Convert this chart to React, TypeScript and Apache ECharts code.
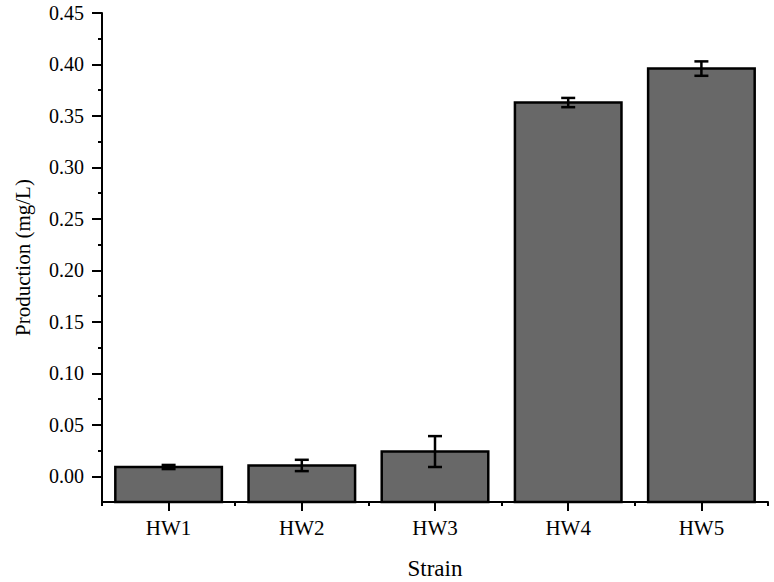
import React, { useEffect, useRef } from "react";
import * as echarts from "echarts";

const categories = ["HW1", "HW2", "HW3", "HW4", "HW5"];
const values = [0.009, 0.0105, 0.024, 0.363, 0.396];
const errors = [0.002, 0.0055, 0.015, 0.0045, 0.007];
const yMin = -0.025;
const yMax = 0.45;
const majorTicks = [0, 0.05, 0.1, 0.15, 0.2, 0.25, 0.3, 0.35, 0.4, 0.45];
const minorTicks = [0.025, 0.075, 0.125, 0.175, 0.225, 0.275, 0.325, 0.375, 0.425];

const FONT = "Liberation Serif";

export default function App() {
  const ref = useRef<HTMLDivElement>(null);
  useEffect(() => {
    if (!ref.current) return;
    const chart = echarts.init(ref.current, null, { renderer: "svg" });
    const axisLine = { show: true, onZero: false, lineStyle: { color: "#000", width: 2 } };
    chart.setOption({
      animation: false,
      backgroundColor: "#fff",
      textStyle: { fontFamily: FONT, fontSize: 20, color: "#000" },
      grid: {
        left: 102,
        right: 6,
        top: 13,
        bottom: 80,
        containLabel: false,
        outerBoundsMode: "none",
      },
      xAxis: [
        {
          type: "category",
          data: categories,
          position: "bottom",
          axisLine,
          axisTick: { show: true, alignWithLabel: true, length: 9, lineStyle: { color: "#000", width: 2 } },
          axisLabel: { fontFamily: FONT, fontSize: 21, color: "#000", margin: 15 },
          name: "Strain",
          nameLocation: "middle",
          nameGap: 55,
          nameTextStyle: { fontFamily: FONT, fontSize: 23, color: "#000" },
          splitLine: { show: false },
        },
        {
          type: "category",
          data: categories,
          position: "bottom",
          axisLine: { show: false, onZero: false },
          axisTick: { show: true, length: 4, lineStyle: { color: "#000", width: 2 } },
          axisLabel: { show: false },
          splitLine: { show: false },
        },
      ],
      yAxis: [
        {
          type: "value",
          min: yMin,
          max: yMax,
          position: "left",
          axisLine,
          axisTick: { show: true, length: 10, customValues: majorTicks, lineStyle: { color: "#000", width: 2 } },
          axisLabel: {
            customValues: majorTicks,
            fontFamily: FONT,
            fontSize: 20,
            color: "#000",
            margin: 18,
            formatter: (v: number) => v.toFixed(2),
          },
          splitLine: { show: false },
          name: "Production (mg/L)",
          nameLocation: "middle",
          nameRotate: 90,
          nameGap: 69,
          nameTextStyle: { fontFamily: FONT, fontSize: 21, color: "#000" },
        },
        {
          type: "value",
          min: yMin,
          max: yMax,
          position: "left",
          axisLine: { show: false, onZero: false },
          axisTick: { show: true, length: 4, customValues: minorTicks, lineStyle: { color: "#000", width: 2 } },
          axisLabel: { show: false },
          splitLine: { show: false },
        },
      ],
      series: [
        {
          type: "custom",
          xAxisIndex: 0,
          yAxisIndex: 0,
          data: values.map((v, i) => [i, v]),
          renderItem: (params: any, api: any) => {
            const i = api.value(0);
            const v = api.value(1);
            const top = api.coord([i, v]);
            const base = api.coord([i, yMin]);
            const w = api.size([1, 0])[0] * 0.8;
            return {
              type: "rect",
              shape: { x: top[0] - w / 2, y: top[1], width: w, height: base[1] - top[1] },
              style: { fill: "#686868", stroke: "#000", lineWidth: 2.5 },
            };
          },
          z: 2,
        },
        {
          type: "custom",
          xAxisIndex: 0,
          yAxisIndex: 0,
          data: values.map((v, i) => [i, v - errors[i], v + errors[i]]),
          renderItem: (params: any, api: any) => {
            const i = api.value(0);
            const lo = api.coord([i, api.value(1)]);
            const hi = api.coord([i, api.value(2)]);
            const cw = 7;
            const st = { stroke: "#000", lineWidth: 2.5 };
            return {
              type: "group",
              children: [
                { type: "line", shape: { x1: lo[0], y1: lo[1], x2: hi[0], y2: hi[1] }, style: st },
                { type: "line", shape: { x1: lo[0] - cw, y1: lo[1], x2: lo[0] + cw, y2: lo[1] }, style: st },
                { type: "line", shape: { x1: hi[0] - cw, y1: hi[1], x2: hi[0] + cw, y2: hi[1] }, style: st },
              ],
            };
          },
          z: 3,
        },
      ],
    });
    return () => chart.dispose();
  }, []);
  return (
    <div
      ref={ref}
      style={{ position: "fixed", left: 0, top: 0, width: 774, height: 582, background: "#fff" }}
    />
  );
}
